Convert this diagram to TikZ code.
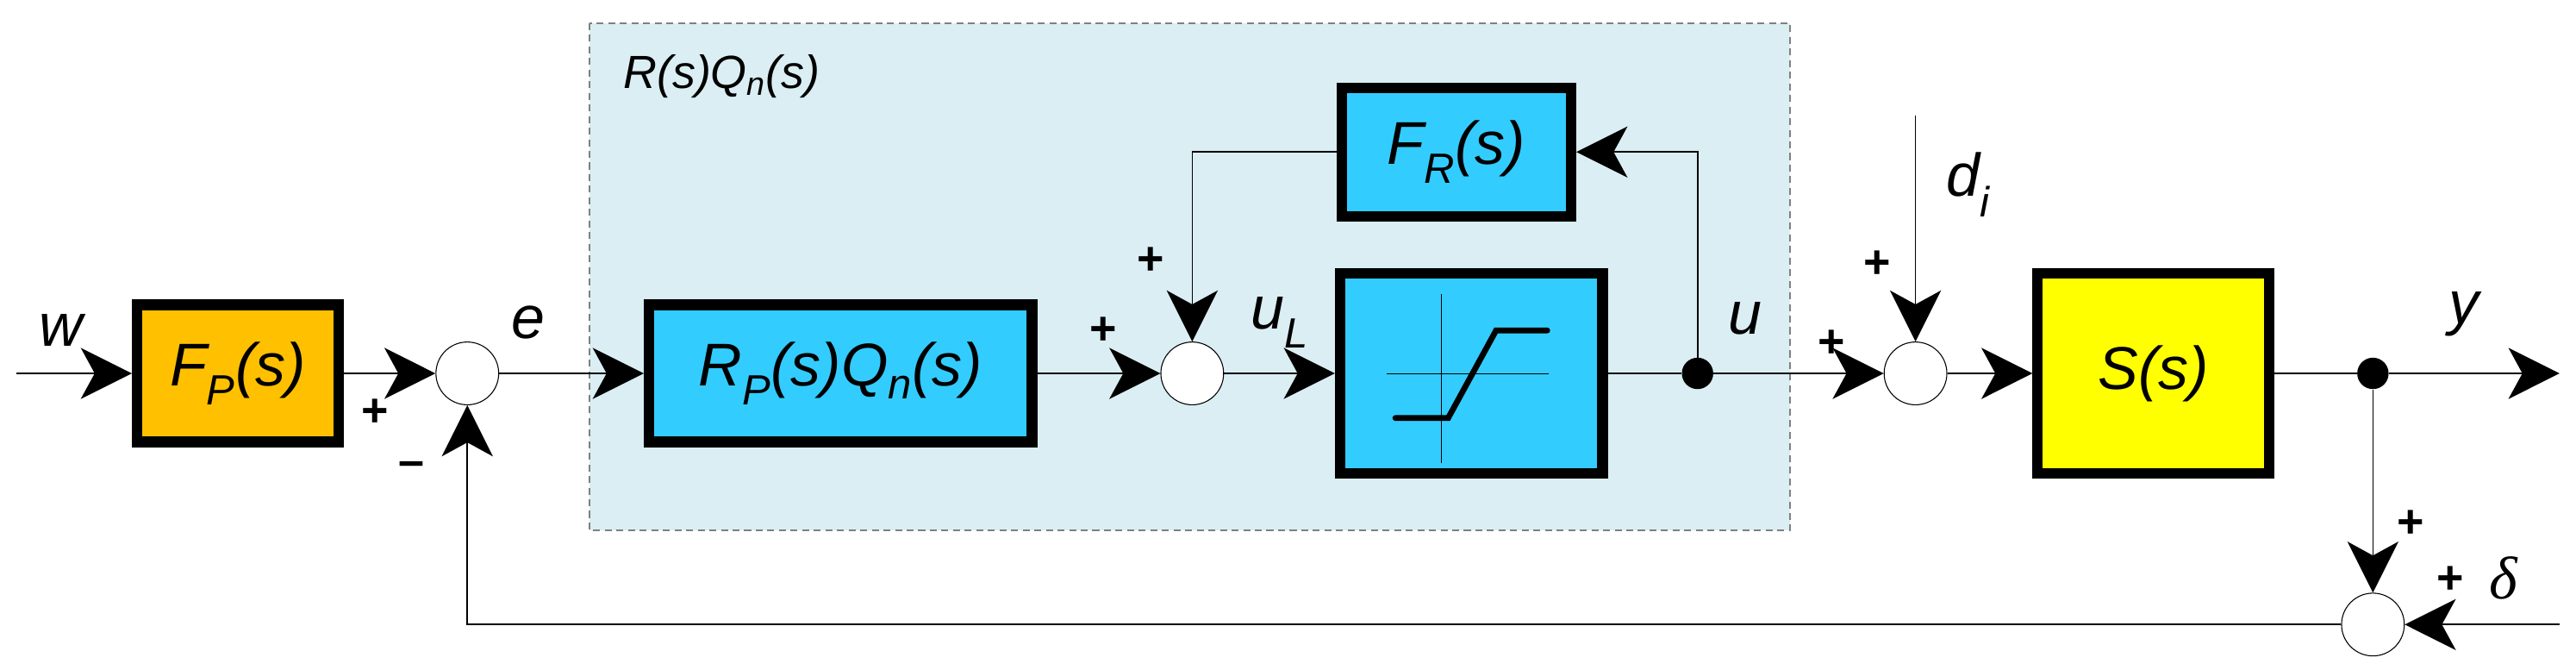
\documentclass[tikz,border=0pt]{standalone}
\usepackage{fontspec}
\setmainfont{Liberation Sans}
\newfontfamily\serifit{Liberation Serif}
\usetikzlibrary{arrows.meta}
\definecolor{shadebg}{HTML}{DAEEF3}
\definecolor{bblue}{HTML}{33CCFF}
\definecolor{borange}{HTML}{FFC000}
\definecolor{byellow}{HTML}{FFFF00}
\begin{document}
\begin{tikzpicture}[x=0.05cm,y=-0.05cm,
  blk/.style={draw=black,line width=9pt,minimum width=#1,inner sep=0pt},
  sumc/.style={circle,draw,line width=0.8pt,fill=white,minimum size=1.9cm,inner sep=0pt},
  dotn/.style={circle,fill=black,minimum size=0.95cm,inner sep=0pt},
  sig/.style={line width=1.2pt,-{Stealth[length=44pt,width=44pt,inset=12pt]}},
  ln/.style={line width=1.2pt},
  lbl/.style={font=\fontsize{52}{56}\selectfont\itshape},
  pm/.style={font=\fontsize{40}{44}\selectfont\bfseries}]
\useasboundingbox (0,0) rectangle (1560,405.5);
\fill[shadebg] (357,14) rectangle (1084,321);
\draw[gray,dashed,line width=1pt,dash pattern=on 6pt off 4pt] (357,14) rectangle (1084,321);
\node[anchor=west,font=\fontsize{40}{44}\selectfont\itshape] (rq) at (375,46) {R(s)Q\textsubscript{n}(s)};
% blocks
\node[blk=6.1cm,minimum height=4.15cm,fill=borange] (fp) at (144,226) {};
\node[lbl] at (fp) {F\textsubscript{P}(s)};
\node[blk=11.6cm,minimum height=4.15cm,fill=bblue] (rp) at (509,226) {};
\node[lbl] at (rp) {R\textsubscript{P}(s)Q\textsubscript{n}(s)};
\node[blk=6.95cm,minimum height=3.9cm,fill=bblue] (fr) at (882,92) {};
\node[lbl] at (fr) {F\textsubscript{R}(s)};
\node[blk=7.95cm,minimum height=6.05cm,fill=bblue] (sat) at (891,226) {};
\node[blk=7cm,minimum height=6.05cm,fill=byellow] (sy) at (1304,226) {};
\node[lbl] at (sy) {S(s)};
\draw[line width=0.6pt] (840,226) -- (938,226) (873,178) -- (873,280);
\draw[line width=5pt,line cap=round] (845,253) -- (877,253) -- (906,200) -- (937,200);
% sums
\node[sumc] (s1) at (283,226) {};
\node[sumc] (s2) at (722,226) {};
\node[sumc] (s3) at (1160,226) {};
\node[sumc] (s4) at (1437,378) {};
\node[dotn] (d1) at (1028,226) {};
\node[dotn] (d2) at (1437,226) {};
\coordinate (win) at (10,226);
\coordinate (yout) at (1550,226);
\coordinate (dtop) at (1160,70);
\coordinate (del) at (1550,378);
% connectors
\draw[sig] (win) -- (fp);
\draw[sig] (fp) -- (s1);
\draw[sig] (s1) -- (rp);
\draw[sig] (rp) -- (s2);
\draw[sig] (s2) -- (sat);
\draw[ln] (sat) -- (d1);
\draw[sig] (d1) -- (s3);
\draw[sig] (d1) |- (fr);
\draw[sig] (fr.west) -| (s2);
\draw[sig] (dtop) -- (s3);
\draw[sig] (s3) -- (sy);
\draw[ln] (sy) -- (d2);
\draw[sig] (d2) -- (yout);
\draw[sig] (d2) -- (s4);
\draw[sig] (del) -- (s4);
\draw[sig] (s4) -| (s1);
% labels
\node[lbl] at (37,200) {w};
\node[lbl] at (320,195) {e};
\node[lbl] at (775,195) {u\textsubscript{L}};
\node[lbl] at (1057,193) {u};
\node[lbl] at (1192,112) {d\textsubscript{i}};
\node[lbl] at (1492,190) {y};
\node[font=\fontsize{52}{56}\selectfont\serifit\itshape] at (1516,350) {δ};
\node[pm] at (227,250) {+};
\node[pm] at (249,284) {–};
\node[pm] at (668,200) {+};
\node[pm] at (697,158) {+};
\node[pm] at (1109,208) {+};
\node[pm] at (1137,160) {+};
\node[pm] at (1460,317) {+};
\node[pm] at (1484,351) {+};
\end{tikzpicture}
\end{document}
